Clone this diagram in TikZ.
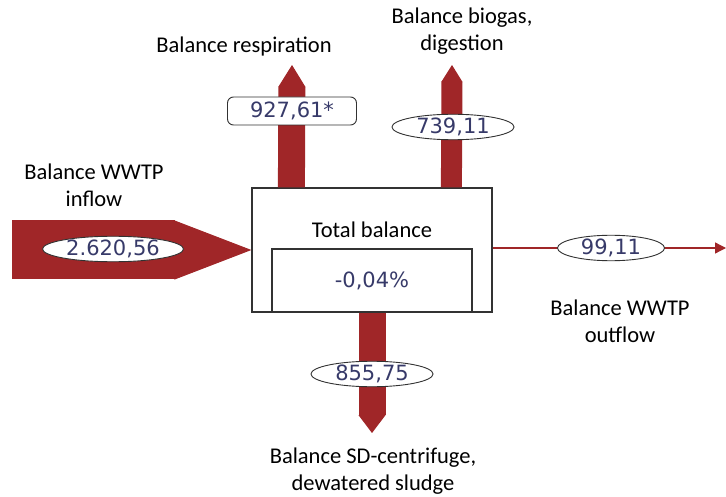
\documentclass[tikz,border=0pt]{standalone}
\usepackage{fontspec}
\setmainfont{Carlito}
\newfontfamily\numfont{DejaVu Sans}
\usetikzlibrary{arrows.meta,positioning,shapes.geometric,calc}
\definecolor{flowred}{RGB}{160,38,40}
\definecolor{numblue}{RGB}{55,58,105}
\definecolor{framegray}{RGB}{50,50,50}

\begin{document}
\begin{tikzpicture}[x=1pt,y=-1pt,
        every node/.style={font=\fontsize{22.5}{27}\selectfont},
        lbl/.style={align=center},
        val/.style={ellipse,draw=framegray,fill=white,line width=0.9pt,inner sep=0pt,
            font=\numfont\fontsize{21}{24}\selectfont,text=numblue},
        valbox/.style={rectangle,rounded corners=6pt,draw=framegray,fill=white,line width=0.9pt,
            inner sep=0pt,font=\numfont\fontsize{21}{24}\selectfont,text=numblue},
        flow/.style={draw=flowred,line cap=butt}]
    \useasboundingbox (0,0) rectangle (726,497);

    %%% Balance box
    \node[draw=framegray,fill=white,line width=1.2pt,minimum width=240pt,minimum height=124pt] (box) at (372,250) {};
    \node[draw=framegray,line width=1.2pt,minimum width=200pt,minimum height=63pt,anchor=south,
        font=\numfont\fontsize{21}{24}\selectfont,text=numblue] (inner) at (box.south) {-0,04\%};
    \node (total) at (372,230) {Total balance};

    %%% Flows
    \coordinate (in-tail) at (12,250);
    \coordinate (resp-base) at ($(box.north west)+(40,0)$);
    \coordinate (resp-tip) at (292,65);
    \coordinate (bio-base) at ($(box.north west)+(200,0)$);
    \coordinate (bio-tip) at (452,65);
    \coordinate (sd-tip) at (372,433);
    \coordinate (out-start) at ($(box.east)+(0,-2)$);
    \coordinate (out-tip) at (726,248);

    \draw[flow,line width=59pt,-{Triangle[length=77pt,width=59pt,line width=1pt]}] (in-tail) -- (box.west);
    \draw[flow,line width=27pt,-{Triangle[length=22pt,width=27pt,line width=1pt]}] (resp-base) -- (resp-tip);
    \draw[flow,line width=21pt,-{Triangle[length=17pt,width=21pt,line width=1pt]}] (bio-base) -- (bio-tip);
    \draw[flow,line width=27pt,-{Triangle[length=18pt,width=27pt,line width=1pt]}] (box.south) -- (sd-tip);
    \draw[flow,line width=1.3pt,-{Triangle[length=11pt,width=11pt]}] (out-start) -- (out-tip);

    %%% Values
    \node[val,minimum width=141pt,minimum height=22pt] (in-val) at (113,249) {2.620,56};
    \node[valbox,minimum width=129pt,minimum height=28pt] (resp-val) at (292,111) {927,61*};
    \node[val,minimum width=122pt,minimum height=23pt] (bio-val) at (453,127) {739,11};
    \node[val,minimum width=122pt,minimum height=25pt] (sd-val) at (372,374) {855,75};
    \node[val,minimum width=107pt,minimum height=20pt] (out-val) at (611,248) {99,11};

    %%% Labels
    \node[lbl] (resp-lbl) at (244,47) {Balance respiration};
    \node[lbl] (bio-lbl) at (462,31) {Balance biogas,\\digestion};
    \node[lbl] (in-lbl) at (94,185) {Balance WWTP\\inflow};
    \node[lbl] (out-lbl) at (620,321) {Balance WWTP\\outflow};
    \node[lbl] (sd-lbl) at (373,471) {Balance SD-centrifuge,\\dewatered sludge};
\end{tikzpicture}
\end{document}
